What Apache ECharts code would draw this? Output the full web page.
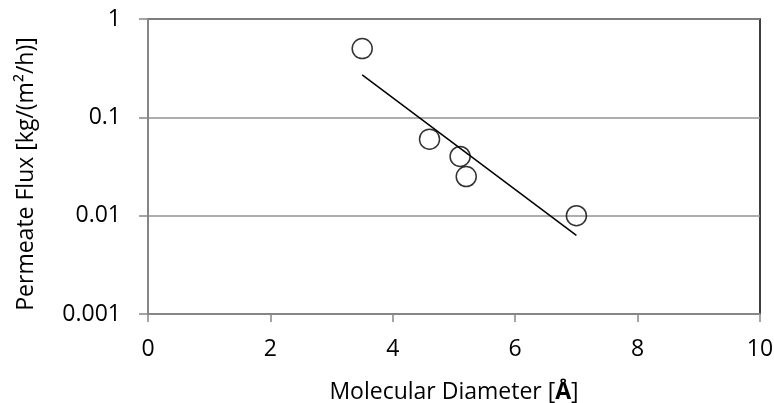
<!DOCTYPE html>
<html>
<head>
<meta charset="utf-8">
<script src="https://cdn.jsdelivr.net/npm/echarts@6/dist/echarts.min.js"></script>
<style>
  html, body { margin: 0; padding: 0; background: #fff; }
  #main { width: 774px; height: 403px; }
</style>
</head>
<body>
<div id="main"></div>
<script>
// measured points (molecular diameter in Å, flux in kg/(m2/h))
var diameters = [3.5, 4.6, 5.1, 5.2, 7.0];
var fluxes = [0.5, 0.06, 0.04, 0.025, 0.01];
// exponential trendline, end points
var trendX = [3.5, 7.0];
var trendY = [0.27, 0.0063];

var font = '"Open Sans", "Liberation Sans", sans-serif';
var axisGray = '#868686';

var points = diameters.map(function (d, i) { return [d, fluxes[i]]; });
var trend = trendX.map(function (d, i) { return [d, trendY[i]]; });

var chart = echarts.init(document.getElementById('main'));
chart.setOption({
  backgroundColor: '#fff',
  animation: false,
  grid: {
    left: 148, right: 14, top: 19, bottom: 89,
    outerBoundsMode: 'none',
    containLabel: false,
    show: true, borderColor: '#000', borderWidth: 1.5
  },
  xAxis: {
    type: 'value',
    min: 0, max: 10, interval: 2,
    name: '{n|Molecular Diameter [}{b|Å}{n|]}',
    nameLocation: 'middle',
    nameGap: 67,
    nameTextStyle: {
      rich: {
        n: { fontFamily: font, fontSize: 23, color: '#000' },
        b: { fontFamily: font, fontSize: 23, color: '#000', fontWeight: 'bold' }
      }
    },
    axisLine: { lineStyle: { color: axisGray, width: 2 } },
    axisTick: { show: true, length: 8, lineStyle: { color: axisGray, width: 1.5 } },
    axisLabel: { fontFamily: font, fontSize: 23, color: '#000', margin: 24 },
    splitLine: { show: false }
  },
  yAxis: {
    type: 'log',
    logBase: 10,
    min: 0.001, max: 1,
    name: 'Permeate Flux [kg/(m²/h)]',
    nameLocation: 'middle',
    nameGap: 110,
    nameTextStyle: { fontFamily: font, fontSize: 23, color: '#000', padding: [0, 15, 0, 0] },
    axisLine: { show: true, lineStyle: { color: axisGray, width: 2 } },
    axisTick: { show: true, length: 9, lineStyle: { color: axisGray, width: 1.5 } },
    axisLabel: {
      fontFamily: font, fontSize: 23, color: '#000', margin: 27,
      formatter: function (v) { return String(Number(v.toPrecision(6))); }
    },
    splitLine: { show: true, lineStyle: { color: '#939393', width: 1.5 } }
  },
  series: [
    {
      type: 'line',
      data: trend,
      symbol: 'none',
      lineStyle: { color: '#000', width: 1.5 },
      z: 2
    },
    {
      type: 'scatter',
      data: points,
      symbol: 'circle',
      symbolSize: 20,
      itemStyle: { color: 'rgba(255,255,255,0)', borderColor: '#000', borderWidth: 1.5 },
      z: 3
    }
  ]
});
</script>
</body>
</html>
